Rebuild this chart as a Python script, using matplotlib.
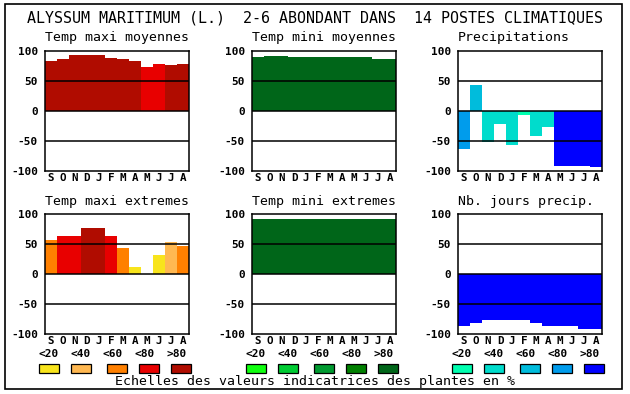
import matplotlib
matplotlib.use('Agg')
import matplotlib.pyplot as plt
from matplotlib.patches import Rectangle

W, H = 630, 394

months = ['S', 'O', 'N', 'D', 'J', 'F', 'M', 'A', 'M', 'J', 'J', 'A']
scale_labels = ['<20', '<40', '<60', '<80', '>80']

reds = ['#f8e41c', '#ffb851', '#ff8000', '#e80000', '#b00c00']
greens = ['#10ff10', '#00cc33', '#009a30', '#008000', '#006619']
blues = ['#00ffb0', '#00dccc', '#00bcdc', '#009cec', '#0000ff']

# values, class = index into the colour scale
tmax_moy = [84, 86, 93, 93, 94, 88, 86, 83, 74, 78, 76, 78]
tmax_moy_cls = [4, 4, 4, 4, 4, 4, 4, 4, 3, 3, 4, 4]
tmin_moy = [90, 92, 92, 90, 90, 90, 90, 90, 90, 90, 87, 87]
tmin_moy_cls = [4] * 12
precip = [-64, 44, -52, -21, -56, -6, -41, -27, -92, -92, -91, -94]
precip_cls = [3, 2, 1, 1, 1, 0, 1, 1, 4, 4, 4, 4]
tmax_ext = [57, 64, 64, 77, 77, 64, 44, 12, 0, 32, 54, 46]
tmax_ext_cls = [2, 3, 3, 4, 4, 3, 2, 0, 0, 0, 1, 2]
tmin_ext = [92, 92, 91, 92, 92, 92, 92, 91, 91, 92, 91, 91]
tmin_ext_cls = [4] * 12
jours = [-87, -82, -77, -77, -76, -77, -82, -86, -87, -87, -91, -91]
jours_cls = [4] * 12

panels = [
    ('Temp maxi moyennes', tmax_moy, tmax_moy_cls, reds, 45, 51),
    ('Temp mini moyennes', tmin_moy, tmin_moy_cls, greens, 252, 51),
    ('Precipitations', precip, precip_cls, blues, 458, 51),
    ('Temp maxi extremes', tmax_ext, tmax_ext_cls, reds, 45, 214),
    ('Temp mini extremes', tmin_ext, tmin_ext_cls, greens, 252, 214),
    ('Nb. jours precip.', jours, jours_cls, blues, 458, 214),
]

mono = 'DejaVu Sans Mono'

fig = plt.figure(figsize=(W / 100, H / 100), dpi=100)
fig.patch.set_facecolor('white')


def fx(px):
    return px / W


def fy(py):
    return 1 - py / H


# outer frame
fig.patches.append(Rectangle((fx(5), fy(389)), fx(617), 385 / H, transform=fig.transFigure,
                             fill=False, edgecolor='black', linewidth=1.2))

fig.text(fx(315), fy(18), 'ALYSSUM MARITIMUM (L.)  2-6 ABONDANT DANS  14 POSTES CLIMATIQUES',
         ha='center', va='center', family=mono, fontsize=10.8)

for title, vals, cls, cols, left, top in panels:
    ax = fig.add_axes([fx(left), fy(top + 120), 144 / W, 120 / H])
    ax.bar(range(12), vals, width=1, align='edge', color=[cols[c] for c in cls], linewidth=0)
    for yv in (-50, 0, 50):
        ax.axhline(yv, color='black', lw=1.1)
    ax.set_xlim(0, 12)
    ax.set_ylim(-100, 100)
    ax.set_yticks([-100, -50, 0, 50, 100])
    ax.set_yticklabels(['-100', '-50', '0', '50', '100'], family=mono, fontweight='bold', fontsize=8)
    ax.set_xticks([i + 0.5 for i in range(12)])
    ax.set_xticklabels(months, family=mono, fontweight='bold', fontsize=7.8)
    ax.tick_params(axis='y', length=0, pad=5)
    ax.tick_params(axis='x', length=0, pad=1.5)
    for s in ax.spines.values():
        s.set_linewidth(1.1)
    fig.text(fx(left), fy(top - 13), title, ha='left', va='center', family=mono, fontsize=9.5)

# colour scales under the bottom row
for cols, left in ((reds, 45), (greens, 252), (blues, 458)):
    for k in range(5):
        fig.text(fx(left + 4 + 32 * k), fy(354), scale_labels[k], ha='center', va='center',
                 family=mono, fontweight='bold', fontsize=8)
        box_x = left - 6 + [0, 32, 68, 100, 132][k]
        fig.patches.append(Rectangle((fx(box_x), fy(373)), 20 / W, 9 / H, transform=fig.transFigure,
                                     facecolor=cols[k], edgecolor='black', linewidth=0.9))

fig.text(fx(315), fy(382), 'Echelles des valeurs indicatrices des plantes en %',
         ha='center', va='center', family=mono, fontsize=9.5)

fig.savefig('out.png', dpi=100)
